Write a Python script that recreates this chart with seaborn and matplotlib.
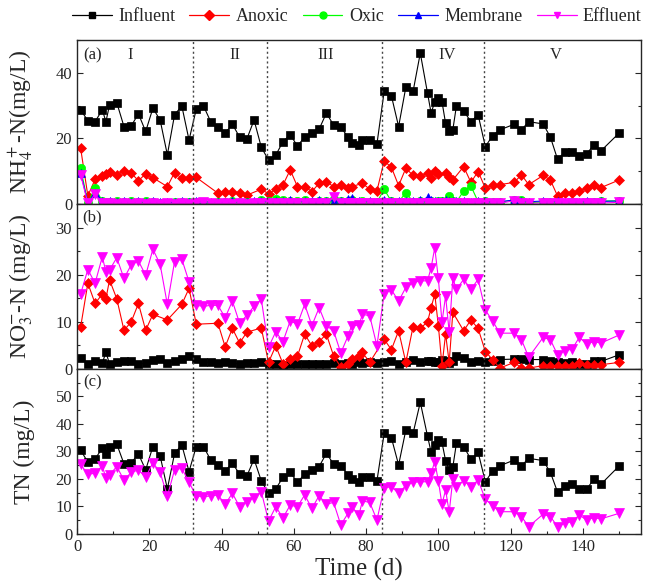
import matplotlib
matplotlib.use("Agg")
import matplotlib.pyplot as plt
from matplotlib.lines import Line2D
from matplotlib.ticker import MultipleLocator
import seaborn as sns

# Sampling days (d)
days = [1, 3, 5, 7, 8, 9, 11, 13, 15, 17, 19, 21, 23, 25, 27, 29, 31, 33, 35, 37,
        39, 41, 43, 45, 47, 49, 51, 53, 55, 57, 59, 61, 63, 65, 67, 69, 71, 73, 75, 76,
        78, 79, 81, 83, 85, 87, 89, 91, 93, 95, 97, 98, 99, 100, 101, 102, 103, 104, 105, 107,
        109, 111, 113, 115, 117, 121, 123, 125, 129, 131, 133, 135, 137, 139, 141, 143, 145, 150]

# (a) NH4+-N
nh4_influent = [28.7, 25.4, 25.1, 28.7, 25.1, 30.2, 30.9, 23.6, 23.8, 27.5,
                22.1, 29.2, 25.6, 15.0, 27.2, 29.9, 19.5, 28.9, 29.9, 25.1,
                23.4, 21.6, 24.3, 20.4, 19.8, 25.6, 17.3, 13.4, 14.9, 19.0,
                21.1, 17.7, 20.4, 21.6, 22.8, 27.7, 24.1, 23.4, 20.4, 18.7,
                18.0, 19.5, 19.5, 18.3, 34.3, 33.0, 23.6, 35.6, 34.3, 46.0,
                33.8, 27.7, 31.2, 32.3, 31.2, 24.6, 22.4, 22.6, 29.9, 28.4,
                25.1, 27.2, 17.5, 20.8, 22.6, 24.3, 22.6, 25.1, 24.4, 20.4,
                13.6, 15.8, 15.8, 14.7, 15.2, 18.0, 16.2, 21.6]
nh4_anoxic_days = [1, 3, 5, 7, 8, 9, 11, 13, 15, 17, 19, 21, 25, 27, 29, 31, 33,
                   39, 41, 43, 45, 47, 51, 53, 55, 57, 59, 61, 63, 65, 67, 69, 71, 73, 75, 76,
                   79, 81, 83, 85, 87, 89, 91, 93, 95, 97, 98, 99, 100, 102, 103, 104,
                   107, 109, 111, 113, 115, 117, 121, 123, 125,
                   129, 131, 133, 135, 137, 139, 141, 143, 145, 150]
nh4_anoxic = [17.0, 2.5, 7.5, 8.4, 9.2, 9.9, 8.9, 10.1, 9.4, 7.1, 9.2, 8.0,
              5.3, 9.6, 7.8, 7.8, 8.1,
              3.3, 3.6, 3.7, 3.3, 2.7,
              4.5, 3.1, 4.5, 5.8, 10.4, 5.3, 5.3, 3.8, 6.3, 6.8, 5.3, 5.8, 5.0, 5.3,
              6.3, 4.5, 4.0, 13.1, 11.2, 5.6, 10.9, 8.7, 8.4, 9.4, 7.8, 10.1, 9.2, 9.4, 8.1, 7.3,
              11.4, 6.6, 9.9, 4.8, 5.8, 5.9, 6.6, 8.9, 5.9,
              8.7, 7.3, 2.4, 3.3, 3.3, 4.0, 4.8, 5.9, 5.0, 7.3]
nh4_oxic = [11.0, 0.3, 5.0, 0.8, 0.6, 0.7, 0.8, 0.5, 0.9, 0.6,
            0.9, 0.5, 0.4, 0.3, 0.5, 0.6, 0.7, 0.5, 0.3, 0.4,
            0.6, 0.5, 0.8, 0.6, 0.5, 0.4, 1.2, 0.9, 1.5, 1.3,
            1.0, 0.8, 1.1, 0.7, 0.9, 0.8, 1.4, 1.0, 0.8, 1.2,
            0.6, 0.9, 0.7, 0.5, 4.5, 0.8, 0.6, 3.5, 0.7, 0.9,
            0.6, 0.8, 0.7, 0.9, 0.8, 0.7, 2.5, 0.8, 0.6, 4.0,
            5.5, 0.7, 0.9, 0.6, 0.5, 1.3, 1.2, 0.4, 0.6, 0.5,
            0.5, 0.4, 0.6, 0.4, 0.5, 0.6, 0.9, 1.0]
nh4_membrane = [9.5, 0.4, 3.5, 0.9, 0.7, 0.8, 0.6, 0.9, 0.7, 0.8,
                0.6, 0.9, 0.7, 0.5, 0.6, 0.9, 0.6, 0.8, 0.5, 0.6,
                0.7, 0.5, 0.8, 0.6, 0.7, 0.9, 0.8, 0.7, 1.0, 0.8,
                1.1, 0.7, 0.9, 0.8, 1.2, 0.9, 1.0, 0.8, 1.5, 1.8,
                0.9, 0.7, 0.8, 0.6, 1.2, 0.9, 0.8, 1.0, 0.9, 1.1,
                2.0, 1.3, 1.0, 0.9, 0.8, 1.1, 1.0, 0.9, 0.8, 1.0,
                0.7, 0.9, 0.8, 0.6, 0.7, 1.2, 0.8, 0.7, 0.9, 0.7,
                0.8, 0.6, 0.7, 0.6, 0.8, 0.7, 0.8, 0.9]
nh4_effluent = [8.9, 0.2, 3.0, 0.2, 0.1, 0.2, 0.1, 0.2, 0.1, 0.2,
                0.1, 0.2, 0.1, 0.2, 0.1, 0.2, 0.1, 0.2, 0.5, 0.2,
                0.1, 0.2, 0.1, 0.2, 0.1, 0.2, 0.3, 0.2, 0.3, 0.2,
                0.3, 0.2, 0.3, 0.2, 0.3, 0.4, 2.0, 0.3, 0.4, 0.3,
                0.2, 0.3, 0.2, 0.3, 0.2, 0.3, 0.2, 0.3, 0.2, 0.3,
                0.2, 0.3, 0.2, 0.3, 0.2, 0.3, 0.2, 0.3, 0.2, 0.3,
                0.2, 0.3, 0.2, 0.3, 0.2, 1.0, 0.3, 0.2, 0.3, 0.2,
                0.3, 0.2, 0.3, 0.2, 0.3, 0.2, 0.3, 0.5]

# (b) NO3--N
no3_influent = [2.3, 1.1, 1.6, 1.3, 3.5, 1.1, 1.5, 1.6, 1.8, 1.1,
                1.2, 2.0, 2.1, 1.3, 1.8, 2.1, 2.8, 2.1, 1.4, 1.5,
                1.3, 1.4, 1.2, 1.1, 1.3, 1.3, 1.4, 1.0, 1.1, 0.9,
                1.0, 1.1, 1.0, 1.1, 1.0, 1.1, 1.2, 1.0, 1.3, 1.1,
                1.4, 1.2, 1.5, 1.3, 1.4, 1.8, 1.1, 1.4, 2.0, 1.5,
                1.6, 1.8, 1.4, 1.5, 2.0, 1.6, 1.3, 1.7, 2.8, 2.3,
                1.4, 1.8, 1.5, 1.6, 2.0, 2.1, 2.1, 2.0, 2.0, 1.8,
                1.4, 1.2, 1.4, 1.1, 1.1, 1.6, 1.6, 3.0]
no3_anoxic_days = [1, 3, 5, 7, 8, 9, 11, 13, 15, 17, 19, 21, 25, 29, 31, 33,
                   39, 41, 43, 45, 47, 51, 53, 55, 57, 59, 61, 63, 65, 67, 69, 71, 73, 75,
                   76, 78, 79, 81, 85, 87, 89, 91, 93, 95, 97, 98, 99, 100, 101, 102, 103, 104,
                   107, 109, 111, 113, 115, 117, 121, 123, 125,
                   129, 131, 133, 135, 137, 139, 141, 143, 145, 150]
no3_anoxic = [8.9, 18.2, 13.9, 15.9, 14.9, 18.9, 14.9, 8.2, 10.0, 13.9, 8.2, 11.6,
              10.4, 13.7, 17.1, 9.5,
              9.7, 4.7, 8.6, 5.5, 7.8,
              8.7, 1.4, 4.9, 1.1, 2.1, 2.7, 7.4, 4.9, 5.8, 7.4, 2.8, 0.4, 1.1,
              2.1, 2.8, 3.5, 1.4, 6.3, 4.1, 8.1, 1.4, 9.0, 8.6, 10.0, 13.0, 15.9, 9.2, 0.7, 7.4, 1.4, 12.0,
              8.1, 10.4, 8.6, 3.7, 2.0, 0.2, 1.4, 0.2, 0.2,
              0.7, 0.7, 0.7, 0.7, 0.7, 1.2, 0.9, 0.9, 0.9, 1.4]
no3_effluent = [15.9, 21.1, 18.2, 23.8, 20.6, 21.0, 23.6, 19.2, 22.1, 22.9,
                19.9, 25.4, 22.2, 13.7, 22.8, 23.3, 18.5, 13.5, 13.3, 13.5,
                13.5, 10.9, 14.4, 9.7, 11.4, 13.3, 14.8, 4.6, 7.9, 5.8,
                10.2, 9.5, 13.7, 9.2, 13.0, 9.2, 8.1, 3.4, 7.0, 9.2,
                9.3, 11.6, 11.3, 4.9, 16.0, 16.8, 14.4, 17.3, 18.3, 18.7,
                18.7, 21.5, 25.7, 19.2, 9.9, 15.5, 7.8, 19.2, 16.9, 19.0,
                16.9, 19.0, 12.5, 10.2, 7.6, 7.6, 6.2, 2.5, 6.7, 6.2,
                3.0, 3.9, 4.2, 6.7, 5.3, 5.8, 5.5, 7.2]

# (c) TN
tn_influent = [30.5, 26.1, 27.3, 31.2, 29.0, 31.8, 32.7, 25.5, 25.9, 29.1,
               23.3, 31.8, 28.4, 16.4, 29.3, 32.4, 22.7, 31.8, 31.8, 26.9,
               25.1, 23.0, 25.7, 21.8, 21.1, 27.2, 19.3, 14.8, 16.4, 20.6,
               22.4, 18.8, 21.8, 23.3, 24.5, 29.3, 25.5, 24.8, 21.5, 20.0,
               18.8, 20.8, 20.8, 19.3, 36.6, 35.0, 25.1, 37.8, 36.6, 47.9,
               35.6, 29.7, 32.4, 34.2, 33.3, 26.7, 23.3, 24.3, 33.0, 31.8,
               27.2, 29.7, 19.0, 22.9, 24.8, 26.9, 24.8, 27.5, 26.7, 22.4,
               15.2, 17.5, 18.2, 16.2, 16.2, 19.9, 18.1, 24.7]
tn_effluent = [25.3, 21.7, 22.1, 24.8, 20.2, 21.5, 24.5, 19.6, 22.4, 23.3,
               20.6, 25.9, 22.4, 13.8, 23.3, 23.9, 18.8, 13.8, 13.6, 13.8,
               14.2, 10.8, 14.8, 9.9, 11.8, 13.2, 15.4, 4.7, 9.9, 5.9,
               10.5, 9.9, 14.2, 9.3, 13.9, 10.8, 11.5, 3.3, 7.5, 9.9,
               6.9, 12.0, 11.5, 5.1, 16.8, 17.2, 14.8, 17.6, 18.8, 19.0,
               19.0, 22.1, 26.3, 19.3, 10.8, 16.0, 7.9, 20.0, 17.2, 19.4,
               17.2, 19.6, 12.6, 10.3, 8.1, 8.1, 6.3, 2.7, 7.2, 6.3,
               2.7, 3.9, 4.5, 6.9, 5.1, 5.9, 5.5, 7.5]

phase_bounds = [32, 52.5, 84.5, 112.5]
phase_names = ["I", "II", "III", "IV", "V"]
phase_label_x = [14.7, 43.7, 68.8, 102.3, 132.4]

series_style = {
    "Influent": ("black", "s", 6.0),
    "Anoxic": ("#ff0000", "D", 5.5),
    "Oxic": ("#00ff00", "o", 6.0),
    "Membrane": ("#0000ff", "^", 6.0),
    "Effluent": ("#ff00ff", "v", 6.5),
}


def draw(ax, x, y, name):
    color, marker, ms = series_style[name]
    sns.lineplot(x=x, y=y, ax=ax, color=color, marker=marker, markersize=ms,
                 markeredgecolor=color, markeredgewidth=0.5, linewidth=0.8,
                 estimator=None, sort=False, legend=False)


def main() -> None:
    sns.set_style("ticks")
    plt.rcParams["font.family"] = ["Liberation Serif", "DejaVu Serif"]
    plt.rcParams["mathtext.fontset"] = "stix"

    fig = plt.figure(figsize=(6.51, 5.82), dpi=100)
    left, width = 0.1183, 0.8659
    ax_a = fig.add_axes([left, 0.6495, width, 0.2818])
    ax_b = fig.add_axes([left, 0.3660, width, 0.2835])
    ax_c = fig.add_axes([left, 0.0825, width, 0.2835])

    # (a)
    draw(ax_a, days, nh4_influent, "Influent")
    draw(ax_a, nh4_anoxic_days, nh4_anoxic, "Anoxic")
    draw(ax_a, days, nh4_oxic, "Oxic")
    draw(ax_a, days, nh4_membrane, "Membrane")
    draw(ax_a, days, nh4_effluent, "Effluent")
    ax_a.set_ylim(0, 50)
    ax_a.yaxis.set_major_locator(MultipleLocator(20))
    ax_a.yaxis.set_minor_locator(MultipleLocator(10))
    ax_a.set_ylabel(r"NH$_4^+$-N(mg/L)", fontsize=17)

    # (b)
    draw(ax_b, days, no3_influent, "Influent")
    draw(ax_b, no3_anoxic_days, no3_anoxic, "Anoxic")
    draw(ax_b, days, no3_effluent, "Effluent")
    ax_b.set_ylim(0, 35)
    ax_b.yaxis.set_major_locator(MultipleLocator(10))
    ax_b.yaxis.set_minor_locator(MultipleLocator(5))
    ax_b.set_ylabel(r"NO$_3^{-}$-N (mg/L)", fontsize=17)

    # (c)
    draw(ax_c, days, tn_influent, "Influent")
    draw(ax_c, days, tn_effluent, "Effluent")
    ax_c.set_ylim(0, 60)
    ax_c.set_yticks([0, 10, 20, 30, 40, 50])
    ax_c.yaxis.set_minor_locator(MultipleLocator(5))
    ax_c.set_ylabel("TN (mg/L)", fontsize=17)
    ax_c.set_xlabel("Time (d)", fontsize=18, labelpad=2)

    panels = [(ax_a, "(a)", 45.4), (ax_b, "(b)", 32.1), (ax_c, "(c)", 55.3)]
    for ax, letter, ypos in panels:
        ax.set_xlim(0, 156)
        ax.xaxis.set_major_locator(MultipleLocator(20))
        ax.xaxis.set_minor_locator(MultipleLocator(10))
        for xb in phase_bounds:
            ax.axvline(xb, color="#444444", linestyle=(0, (1.5, 2)), linewidth=1.0)
        ax.text(4.2, ypos, letter, fontsize=12, ha="center", va="center")
        ax.tick_params(which="both", direction="in", right=True, top=False,
                       labelsize=12, width=0.8)
        ax.tick_params(which="major", length=4)
        ax.tick_params(which="minor", length=2.5)
        for spine in ax.spines.values():
            spine.set_linewidth(1.0)
        ax.yaxis.set_label_coords(-0.075, 0.5)
        if ax is not ax_c:
            ax.tick_params(which="both", bottom=False, labelbottom=False)
            ax.set_xlabel("")

    for name, xp in zip(phase_names, phase_label_x):
        ax_a.text(xp, 45.5, name, fontsize=12, ha="center", va="center")

    handles = []
    for name, (color, marker, ms) in series_style.items():
        handles.append(Line2D([], [], color=color, marker=marker, markersize=5,
                              markeredgecolor=color, linewidth=0.9, label=name))
    fig.legend(handles=handles, loc="center", bbox_to_anchor=(0.548, 0.971),
               ncol=5, frameon=False, fontsize=13, handlelength=2.2,
               handletextpad=0.35, columnspacing=0.8)

    fig.savefig("out.png", dpi=100)


if __name__ == "__main__":
    main()
